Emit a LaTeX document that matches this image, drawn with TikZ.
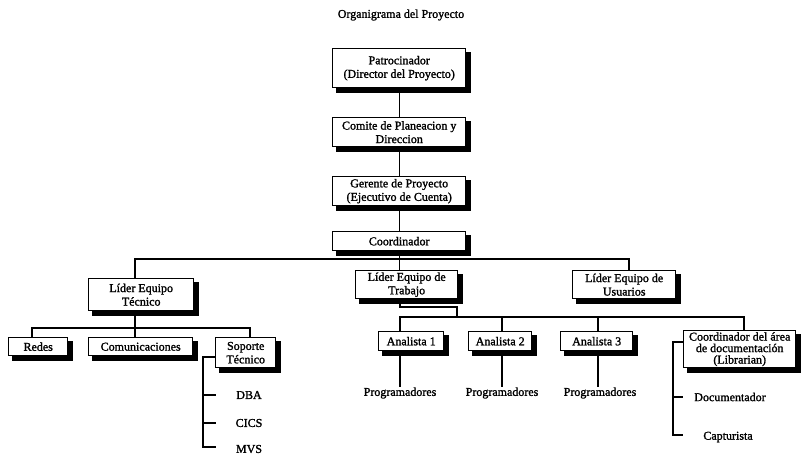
\documentclass[tikz,border=0pt]{standalone}
\usepackage{fontspec}
\setmainfont[FakeBold=1.5]{Liberation Serif}

\begin{document}
\begin{tikzpicture}[x=1pt,y=-1pt,
  every node/.style={font=\fontsize{12}{13.5}\selectfont},
  unit/.style={draw=black, line width=1.4pt, fill=white, align=center,
    inner sep=0pt, anchor=north west},
  link/.style={draw=black, line width=1.2pt},
  shade edge/.style={draw=black, line width=4.5pt, line join=miter},
  plain/.style={inner sep=0pt}]
\useasboundingbox (0,0) rectangle (802,456);

% title
\node[plain] (title) at (401,15) {Organigrama del Proyecto};

% upper chain
\node[unit, minimum width=133, minimum height=39] (patro) at (332,48)
  {Patrocinador\\(Director del Proyecto)};
\node[unit, minimum width=133, minimum height=29] (comite) at (332,117)
  {Comite de Planeacion y\\Direccion};
\node[unit, minimum width=133, minimum height=29] (gerente) at (332,176)
  {Gerente de Proyecto\\(Ejecutivo de Cuenta)};
\node[unit, minimum width=133, minimum height=19] (coord) at (332,231)
  {Coordinador};

% team leaders
\node[unit, minimum width=105, minimum height=32] (ltec) at (88,278)
  {Líder Equipo\\Técnico};
\node[unit, minimum width=102, minimum height=28] (ltrab) at (355,270)
  {Líder Equipo de\\Trabajo};
\node[unit, minimum width=103, minimum height=28] (lusu) at (572,270)
  {Líder Equipo de\\Usuarios};

% technical team
\node[unit, minimum width=59, minimum height=18] (redes) at (8,337) {Redes};
\node[unit, minimum width=104, minimum height=18] (comun) at (88,337) {Comunicaciones};
\node[unit, minimum width=60, minimum height=30] (soporte) at (215,337)
  {Soporte\\Técnico};
\node[plain] (dba) at (249,395) {DBA};
\node[plain] (cics) at (249,423) {CICS};
\node[plain] (mvs) at (249,449) {MVS};

% analysts
\node[unit, minimum width=65, minimum height=19] (an1) at (378,331) {Analista 1};
\node[unit, minimum width=63, minimum height=19] (an2) at (468,331) {Analista 2};
\node[unit, minimum width=72, minimum height=19] (an3) at (560,331) {Analista 3};
\node[plain] (p1) at (400,393) {Programadores};
\node[plain] (p2) at (502,393) {Programadores};
\node[plain] (p3) at (600,393) {Programadores};

% documentation
\node[unit, minimum width=112, minimum height=37,
  font=\fontsize{12}{11.5}\selectfont] (cdoc) at (683,330)
  {Coordinador del área\\de documentación\\(Librarian)};
\node[plain] (docu) at (730,397) {Documentador};
\node[plain] (capt) at (728,437) {Capturista};

% heavy shadow edges along the lower and right sides of every box
\foreach \b in {patro,comite,gerente,coord,ltec,ltrab,lusu,
                redes,comun,soporte,an1,an2,an3,cdoc}
  \draw[shade edge] ([shift={(4,2)}]\b.south west) -- ([shift={(2,2)}]\b.south east)
                    -- ([shift={(2,4)}]\b.north east);

% junction points
\coordinate (bl) at (135,259);
\coordinate (br) at (629,259);
\coordinate (sl) at (32,328);
\coordinate (sr) at (250,328);
\coordinate (st) at (203,357);
\coordinate (al) at (400,317);
\coordinate (ar) at (744,317);
\coordinate (lt) at (457,307);
\coordinate (x2) at (502,317);
\coordinate (x3) at (598,317);
\coordinate (ct) at (673,342);

% upper chain links
\draw[link] (patro.south) -- (comite.north);
\draw[link] (comite.south) -- (gerente.north);
\draw[link] (gerente.south) -- (coord.north);
\draw[link] (coord.south) -- (coord.south |- ltrab.north);

% main bus
\draw[link] (ltec.north -| bl) -- (bl) -- (br) -- (br |- lusu.north);

% technical sub-tree
\draw[link] (ltec.south -| bl) -- (bl |- sl);
\draw[link] (redes.north -| sl) -- (sl) -- (sr) -- (sr |- soporte.north);
\draw[link] (comun.north -| bl) -- (bl |- sl);
\draw[link] (soporte.west |- st) -- (st) -- (st |- 0,447) -- (216,447);
\draw[link] (st |- dba) -- (216,395);
\draw[link] (st |- cics) -- (216,423);

% work team sub-tree
\draw[link] (ltrab.south -| al) -- (al |- lt) -- (lt) -- (lt |- al);
\draw[link] (an1.north -| al) -- (al) -- (ar) -- (ar |- cdoc.north);
\draw[link] (x2) -- (x2 |- an2.north);
\draw[link] (x3) -- (x3 |- an3.north);
\draw[link] (an1.south -| al) -- (al |- p1.north);
\draw[link] (an2.south -| x2) -- (x2 |- p2.north);
\draw[link] (an3.south -| x3) -- (x3 |- p3.north);

% documentation sub-tree
\draw[link] (cdoc.west |- ct) -- (ct) -- (ct |- 0,435) -- (683,435);
\draw[link] (ct |- docu) -- (683,397);
\end{tikzpicture}
\end{document}
